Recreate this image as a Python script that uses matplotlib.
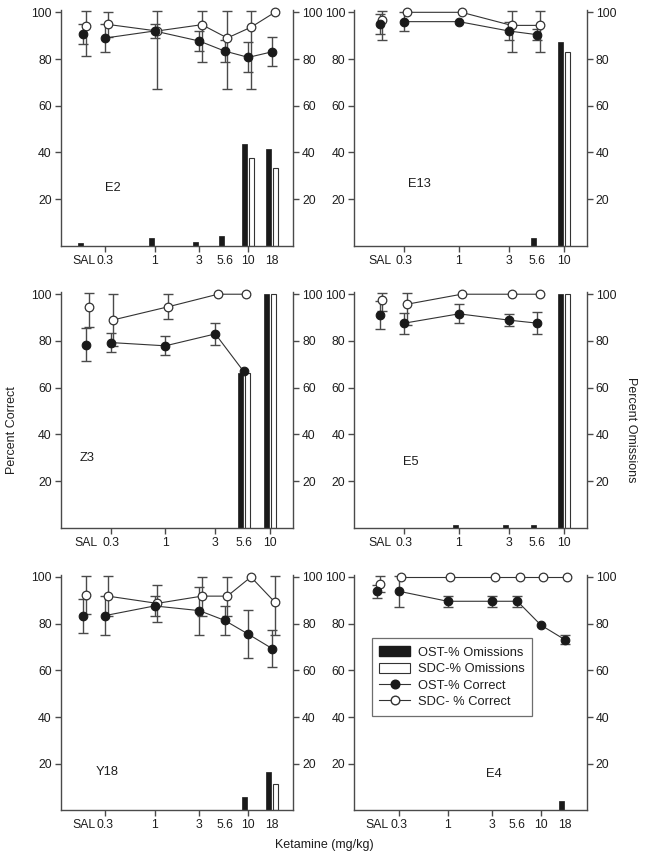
import numpy as np
import matplotlib
matplotlib.use('Agg')
import matplotlib.pyplot as plt
from matplotlib.ticker import FixedLocator, FixedFormatter, NullLocator
from matplotlib.patches import Patch
from matplotlib.lines import Line2D

plt.rcParams['font.family'] = ['Liberation Sans', 'DejaVu Sans']

nan = np.nan
SAL = 0.175
doses_18 = [SAL, 0.3, 1, 3, 5.6, 10, 18]
doses_10 = [SAL, 0.3, 1, 3, 5.6, 10]
labels_18 = ['SAL', '0.3', '1', '3', '5.6', '10', '18']
labels_10 = ['SAL', '0.3', '1', '3', '5.6', '10']
ticked_labels = ['0.3', '1', '3', '10']

# ---- E2 ----
e2_ost_correct = [90.7, 89.0, 92.0, 87.7, 83.4, 80.7, 83.1]
e2_ost_err = [4.3, 5.9, 2.8, 4.3, 4.6, 6.4, 6.2]
e2_sdc_correct = [94.1, 94.8, 92.0, 94.7, 89.0, 93.6, 100]
e2_sdc_err = [12.8, 5.3, 25.0, 15.8, 22.0, 26.5, 0]
e2_ost_omit = [1.0, 0, 3.2, 1.5, 4.2, 43.5, 41.6]
e2_sdc_omit = [0, 0, 0, 0, 0, 37.5, 33.2]

# ---- E13 ----
e13_ost_correct = [95.0, 96.0, 96.0, 92.0, 90.4, nan]
e13_ost_err = [4.3, 4.0, 0, 4.0, 2.4, nan]
e13_sdc_correct = [96.7, 100, 100, 94.4, 94.4, nan]
e13_sdc_err = [8.7, 0, 0, 11.4, 11.4, nan]
e13_ost_omit = [0, 0, 0, 0, 3.3, 87.4]
e13_sdc_omit = [0, 0, 0, 0, 0, 83.1]

# ---- Z3 ----
z3_ost_correct = [78.3, 79.3, 77.9, 83.0, 66.9, nan]
z3_ost_err = [7.1, 4.1, 4.0, 4.6, 0, nan]
z3_sdc_correct = [94.6, 89.0, 94.6, 100, 100, nan]
z3_sdc_err = [8.7, 11.0, 5.4, 0, 0, nan]
z3_ost_omit = [0, 0, 0, 0, 66.3, 100]
z3_sdc_omit = [0, 0, 0, 0, 66.3, 100]

# ---- E5 ----
e5_ost_correct = [91.0, 87.6, 91.6, 88.9, 87.6, nan]
e5_ost_err = [6.1, 4.5, 4.0, 2.5, 4.7, nan]
e5_sdc_correct = [97.6, 95.7, 100, 100, 100, nan]
e5_sdc_err = [5.0, 9.0, 0, 0, 0, nan]
e5_ost_omit = [0, 0, 1.0, 1.0, 1.0, 100]
e5_sdc_omit = [0, 0, 0, 0, 0, 100]

# ---- Y18 ----
y18_ost_correct = [83.4, 83.5, 87.6, 85.6, 81.4, 75.5, 69.3]
y18_ost_err = [7.2, 8.5, 4.4, 10.3, 6.3, 10.3, 8.0]
y18_sdc_correct = [92.3, 91.8, 88.7, 91.8, 91.8, 100, 89.2]
y18_sdc_err = [8.2, 8.5, 8.0, 8.4, 8.4, 0, 14.0]
y18_ost_omit = [0, 0, 0, 0, 0, 5.7, 16.6]
y18_sdc_omit = [0, 0, 0, 0, 0, 0, 11.2]

# ---- E4 ----
e4_ost_correct = [93.9, 93.9, 89.6, 89.6, 89.6, 79.4, 73.2]
e4_ost_err = [2.8, 6.9, 2.4, 2.4, 2.4, 0, 1.9]
e4_sdc_correct = [97.2, 100, 100, 100, 100, 100, 100]
e4_sdc_err = [3.5, 0, 0, 0, 0, 0, 0]
e4_ost_omit = [0, 0, 0, 0, 0, 0, 4.1]
e4_sdc_omit = [0, 0, 0, 0, 0, 0, 0]

panels = [
    dict(name='E2', doses=doses_18, labels=labels_18, oc=e2_ost_correct, oe=e2_ost_err,
         sc=e2_sdc_correct, se=e2_sdc_err, oo=e2_ost_omit, so=e2_sdc_omit,
         pos=(0, 0), xlim=(0.1, 30), lab=(0.225, 0.245)),
    dict(name='E13', doses=doses_10, labels=labels_10, oc=e13_ost_correct, oe=e13_ost_err,
         sc=e13_sdc_correct, se=e13_sdc_err, oo=e13_ost_omit, so=e13_sdc_omit,
         pos=(0, 1), xlim=(0.1, 16.6), lab=(0.28, 0.26)),
    dict(name='Z3', doses=doses_10, labels=labels_10, oc=z3_ost_correct, oe=z3_ost_err,
         sc=z3_sdc_correct, se=z3_sdc_err, oo=z3_ost_omit, so=z3_sdc_omit,
         pos=(1, 0), xlim=(0.1, 16.6), lab=(0.115, 0.295)),
    dict(name='E5', doses=doses_10, labels=labels_10, oc=e5_ost_correct, oe=e5_ost_err,
         sc=e5_sdc_correct, se=e5_sdc_err, oo=e5_ost_omit, so=e5_sdc_omit,
         pos=(1, 1), xlim=(0.1, 16.6), lab=(0.245, 0.28)),
    dict(name='Y18', doses=doses_18, labels=labels_18, oc=y18_ost_correct, oe=y18_ost_err,
         sc=y18_sdc_correct, se=y18_sdc_err, oo=y18_ost_omit, so=y18_sdc_omit,
         pos=(2, 0), xlim=(0.1, 30), lab=(0.2, 0.163)),
    dict(name='E4', doses=doses_18, labels=labels_18, oc=e4_ost_correct, oe=e4_ost_err,
         sc=e4_sdc_correct, se=e4_sdc_err, oo=e4_ost_omit, so=e4_sdc_omit,
         pos=(2, 1), xlim=(0.1, 31), lab=(0.6, 0.153)),
]

W, H, DPI = 6.45, 8.6, 100
fig = plt.figure(figsize=(W, H), dpi=DPI)

row_bottoms = [0.7142, 0.3864, 0.0576]
col_lefts = [0.0941, 0.5493]
AX_W, AX_H = 0.3603, 0.2742

GREY = '#4a4a4a'
TXT = '#1e1e1e'
FS = 8.8

for p in panels:
    r, c = p['pos']
    ax = fig.add_axes([col_lefts[c], row_bottoms[r], AX_W, AX_H])
    ax.set_xscale('log')
    ax.set_xlim(*p['xlim'])
    ax.set_ylim(0, 101)
    lo, hi = p['xlim']
    ppd = AX_W * W * DPI / (np.log10(hi) - np.log10(lo))  # pixels per decade

    d = np.array(p['doses'], dtype=float)
    oc = np.array(p['oc'], dtype=float); oe = np.array(p['oe'], dtype=float)
    sc = np.array(p['sc'], dtype=float); se = np.array(p['se'], dtype=float)
    oo = np.array(p['oo'], dtype=float); so = np.array(p['so'], dtype=float)

    # bars (omissions): black left of dose, white right of dose
    bw = 10 ** (5.0 / ppd)
    gap = 10 ** (0.9 / ppd)
    for xi, hb, hw in zip(d, oo, so):
        if hb > 0:
            left = xi / gap / bw
            ax.bar(left, hb, width=xi / gap - left, align='edge', color='#1a1a1a',
                   edgecolor='#1a1a1a', linewidth=0.5, zorder=2)
        if hw > 0:
            left = xi * gap
            ax.bar(left, hw, width=left * bw - left, align='edge', color='white',
                   edgecolor='#333333', linewidth=0.8, zorder=2)

    shift = 10 ** (2.6 / ppd)
    ds = d * shift

    # error bars (upper clipped at 100)
    def draw_err(x, v, e):
        m = (~np.isnan(v)) & (~np.isnan(e)) & (e > 0)
        if m.any():
            up = np.minimum(v[m] + e[m], 100.5) - v[m]
            ax.errorbar(x[m], v[m], yerr=[e[m], up], fmt='none', ecolor=GREY,
                        elinewidth=1.0, capsize=3.4, capthick=1.0, zorder=3)
    draw_err(ds, sc, se)
    draw_err(d, oc, oe)

    # connecting lines (doses only, not SAL)
    ax.plot(d[1:], oc[1:], '-', color='#333333', lw=0.8, zorder=4)
    ax.plot(ds[1:], sc[1:], '-', color='#333333', lw=0.8, zorder=4)
    # markers
    ax.plot(d, oc, 'o', ms=6.2, mfc='#1a1a1a', mec='#1a1a1a', mew=0.8, zorder=6, clip_on=False)
    ax.plot(ds, sc, 'o', ms=6.2, mfc='white', mec='#333333', mew=0.9, zorder=5, clip_on=False)

    # axes styling
    ax.spines['top'].set_visible(False)
    for s in ['left', 'right', 'bottom']:
        ax.spines[s].set_color(GREY)
        ax.spines[s].set_linewidth(1.0)
    ax.xaxis.set_major_locator(FixedLocator(p['doses']))
    ax.xaxis.set_major_formatter(FixedFormatter(p['labels']))
    ax.xaxis.set_minor_locator(NullLocator())
    ax.set_yticks([20, 40, 60, 80, 100])
    ax.tick_params(axis='both', labelsize=FS, colors=GREY, labelcolor=TXT,
                   direction='out', length=4, width=1.0, pad=2.5)
    ax.tick_params(axis='y', left=True, right=True, labelleft=True, labelright=True)
    for t, lab in zip(ax.xaxis.get_major_ticks(), p['labels']):
        if lab not in ticked_labels:
            t.tick1line.set_visible(False)
    ax.text(p['lab'][0], p['lab'][1], p['name'], transform=ax.transAxes,
            fontsize=FS + 0.5, color=TXT, ha='center', va='center')

    if p['name'] == 'E4':
        handles = [
            Patch(facecolor='#1a1a1a', edgecolor='#1a1a1a'),
            Patch(facecolor='white', edgecolor='#333333', linewidth=0.8),
            Line2D([], [], color='#333333', lw=0.8, marker='o', ms=6.2,
                   mfc='#1a1a1a', mec='#1a1a1a'),
            Line2D([], [], color='#333333', lw=0.8, marker='o', ms=6.2,
                   mfc='white', mec='#333333'),
        ]
        leg = ax.legend(handles, ['OST-% Omissions', 'SDC-% Omissions',
                                  'OST-% Correct', 'SDC- % Correct'],
                        loc='upper left', bbox_to_anchor=(0.075, 0.73),
                        borderaxespad=0, fontsize=FS + 0.5, frameon=True,
                        fancybox=False, handlelength=2.4, handleheight=0.8,
                        handletextpad=0.55, labelspacing=0.32, borderpad=0.6)
        leg.get_frame().set_edgecolor(GREY)
        leg.get_frame().set_linewidth(0.9)
        for t in leg.get_texts():
            t.set_color(TXT)

fig.text(0.019, 0.5, 'Percent Correct', rotation=90, ha='center', va='center',
         fontsize=FS + 0.2, color=TXT)
fig.text(0.979, 0.5, 'Percent Omissions', rotation=270, ha='center', va='center',
         fontsize=FS + 0.2, color=TXT)
fig.text(0.503, 0.017, 'Ketamine (mg/kg)', ha='center', va='center',
         fontsize=FS + 0.2, color=TXT)

fig.savefig('out.png', dpi=DPI)
